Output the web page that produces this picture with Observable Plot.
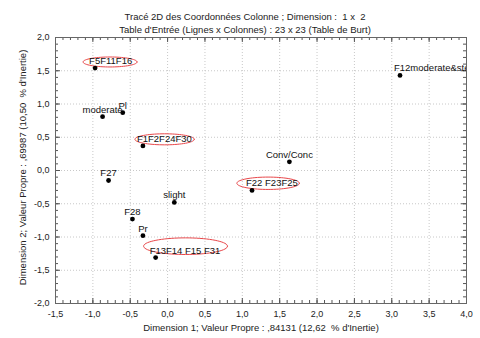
<!DOCTYPE html>
<html>
<head>
<meta charset="utf-8">
<script src="https://cdn.jsdelivr.net/npm/d3@7"></script>
<script src="https://cdn.jsdelivr.net/npm/@observablehq/plot@0.6"></script>
<style>
  html, body { margin: 0; padding: 0; background: #fff; }
  svg { display: block; }
</style>
</head>
<body>
<div id="chart"></div>
<script>
// ---- data ----
const pointLabels = ["F5F11F16", "moderate", "Pl", "F1F2F24F30", "F12moderate&ste", "Conv/Conc",
                     "F22 F23F25", "F27", "slight", "F28", "Pr", "F13F14 F15 F31"];
const dim1 = [-0.97, -0.87, -0.60, -0.33, 3.11, 1.63, 1.13, -0.79, 0.09, -0.47, -0.33, -0.16];
const dim2 = [1.54, 0.81, 0.87, 0.37, 1.43, 0.13, -0.30, -0.15, -0.48, -0.73, -0.98, -1.31];
const labelKind = ["group", "single", "single", "group", "group", "single",
                   "group", "single", "single", "single", "single", "group"];

// highlighted groups (ellipses) : centre and radii in data units
const ellipseCX = [-0.77, -0.04, 1.345, 0.24];
const ellipseCY = [1.632, 0.469, -0.192, -1.138];
const ellipseRX = [0.361, 0.397, 0.418, 0.561];
const ellipseRY = [0.075, 0.083, 0.093, 0.125];

const xTicks = [-1.5, -1.0, -0.5, 0.0, 0.5, 1.0, 1.5, 2.0, 2.5, 3.0, 3.5, 4.0];
const yTicks = [-2.0, -1.5, -1.0, -0.5, 0.0, 0.5, 1.0, 1.5, 2.0];

const titleLines = ["Tracé 2D des Coordonnées Colonne ; Dimension :  1 x  2",
                    "Table d'Entrée (Lignes x Colonnes) : 23 x 23 (Table de Burt)"];
const xLabel = "Dimension 1; Valeur Propre : ,84131 (12,62  % d'Inertie)";
const yLabel = "Dimension 2; Valeur Propre : ,69987 (10,50  % d'Inertie)";

// ---- build tables ----
const points = pointLabels.map((label, i) => ({label, x: dim1[i], y: dim2[i], kind: labelKind[i]}));
const singles = points.filter(d => d.kind === "single");
const groups = points.filter(d => d.kind === "group");

const ellipsePts = [];
ellipseCX.forEach((cx, i) => {
  for (let k = 0; k <= 72; k++) {
    const a = (k / 72) * 2 * Math.PI;
    ellipsePts.push({id: i, x: cx + ellipseRX[i] * Math.cos(a), y: ellipseCY[i] + ellipseRY[i] * Math.sin(a)});
  }
});

const minorX = d3.range(-15, 41).map(v => v / 10);
const minorY = d3.range(-20, 21).map(v => v / 10);

const fmt = v => d3.format(".1f")(v).replace("−", "-").replace(".", ",");

const W = 480, H = 338;
const mL = 55, mR = 14, mT = 37, mB = 35;
const innerW = W - mL - mR, innerH = H - mT - mB;
const tickCol = "#555";
const font = "'Liberation Sans', Arial, sans-serif";

const chart = Plot.plot({
  width: W, height: H,
  marginLeft: mL, marginRight: mR, marginTop: mT, marginBottom: mB,
  style: {background: "#fff", fontFamily: font, color: "#222"},
  x: {domain: [-1.5, 4.0], axis: null},
  y: {domain: [-2.0, 2.0], axis: null},
  marks: [
    // grid
    Plot.ruleX(xTicks.slice(1, -1), {x: d => d, stroke: "#c8c8c8", strokeDasharray: "1,2"}),
    Plot.ruleY(yTicks.slice(1, -1), {y: d => d, stroke: "#c8c8c8", strokeDasharray: "1,2"}),
    // minor ticks (inward, all four sides)
    Plot.ruleX(minorX, {x: d => d, insetTop: innerH - 3, stroke: tickCol}),
    Plot.ruleX(minorX, {x: d => d, insetBottom: innerH - 3, stroke: tickCol}),
    Plot.ruleY(minorY, {y: d => d, insetRight: innerW - 3, stroke: tickCol}),
    Plot.ruleY(minorY, {y: d => d, insetLeft: innerW - 3, stroke: tickCol}),
    // major ticks
    Plot.ruleX(xTicks, {x: d => d, insetTop: innerH - 5, stroke: tickCol}),
    Plot.ruleX(xTicks, {x: d => d, insetBottom: innerH - 5, stroke: tickCol}),
    Plot.ruleY(yTicks, {y: d => d, insetRight: innerW - 5, stroke: tickCol}),
    Plot.ruleY(yTicks, {y: d => d, insetLeft: innerW - 5, stroke: tickCol}),
    Plot.frame({stroke: "#666"}),
    // tick labels
    Plot.axisX({ticks: xTicks, tickSize: 0, tickPadding: 7, tickFormat: fmt, fontSize: 9, fill: "#222", label: null}),
    Plot.axisY({ticks: yTicks, tickSize: 0, tickPadding: 6, tickFormat: fmt, fontSize: 9, fill: "#222", label: null}),
    // ellipses
    Plot.line(ellipsePts, {x: "x", y: "y", z: "id", stroke: "#e8474a", strokeWidth: 1, curve: "linear"}),
    // points
    Plot.dot(points, {x: "x", y: "y", r: 2.4, fill: "#000", stroke: null}),
    Plot.text(singles, {x: "x", y: "y", text: "label", lineAnchor: "bottom", dy: -4,
      fontSize: 9.5, fill: "#111"}),
    Plot.text(groups, {x: "x", y: "y", text: "label", lineAnchor: "bottom", textAnchor: "start", dy: -4, dx: -6,
      fontSize: 9.5, fill: "#111", clip: true}),
    // titles
    Plot.text([titleLines[0]], {frameAnchor: "top", text: d => d, dy: -24, dx: -16, fontSize: 9.5, fill: "#222"}),
    Plot.text([titleLines[1]], {frameAnchor: "top", text: d => d, dy: -11, dx: -16, fontSize: 9.5, fill: "#222"}),
    // axis labels
    Plot.text([xLabel], {frameAnchor: "bottom", text: d => d, dy: 27, fontSize: 9.5, fill: "#222"}),
    Plot.text([yLabel], {frameAnchor: "left", text: d => d, textAnchor: "middle", dx: -33, dy: -3, rotate: -90, fontSize: 9.5, fill: "#222"})
  ]
});
document.getElementById("chart").appendChild(chart);
</script>
</body>
</html>
